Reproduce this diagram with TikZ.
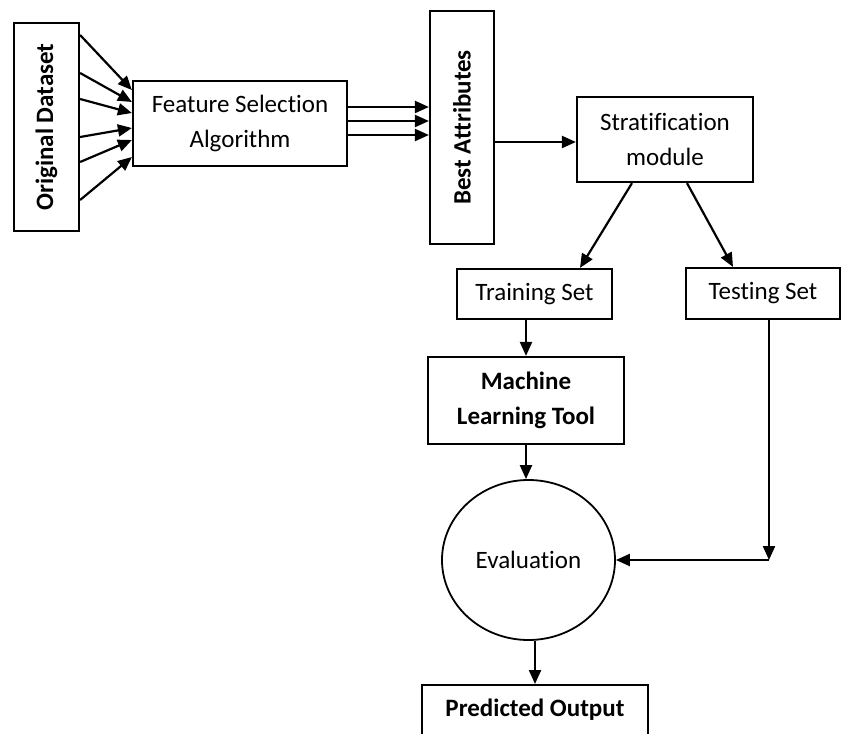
\documentclass[tikz,border=0pt]{standalone}
\usepackage{fontspec}
\setmainfont[Ligatures={NoCommon}]{Carlito}
\usepackage{tikz}
\usetikzlibrary{arrows.meta, shapes.geometric, calc}

\tikzset{
    box/.style={draw, line width=1.1pt, align=center, inner sep=0pt},
    arr/.style={line width=1.1pt, -{Triangle[length=7pt, width=6pt]}}
}

\begin{document}
\begin{tikzpicture}[x=0.5pt, y=-0.5pt, font=\fontsize{12.5}{17.5}\selectfont]
                    \useasboundingbox (0, 0) rectangle (842, 734);

                    \node[box, minimum width=32.5pt, minimum height=104pt] (orig) at (46.5, 127) {\rotatebox{90}{\bfseries Original Dataset}};
                    \node[box, minimum width=107pt, minimum height=42.5pt] (fsa) at (240, 123.5) {Feature Selection\\Algorithm};
                    \node[box, minimum width=32pt, minimum height=116.5pt] (best) at (462, 127.5) {\rotatebox{90}{\bfseries Best Attributes}};
                    \node[box, minimum width=88pt, minimum height=42.5pt] (strat) at (665, 139.5) {Stratification\\module};
                    \node[box, minimum width=77.5pt, minimum height=25pt] (train) at (534.5, 294) {Training Set};
                    \node[box, minimum width=77pt, minimum height=25.5pt] (test) at (763, 293.5) {Testing Set};
                    \node[box, minimum width=98pt, minimum height=43.5pt, font=\fontsize{12.5}{17.5}\selectfont\bfseries] (mlt) at (526, 400.5) {Machine\\Learning Tool};
                    \node[box, ellipse, line width=0.9pt, minimum width=86.5pt, minimum height=80pt] (eval) at (528.5, 560) {Evaluation};
                    \node[box, anchor=north, minimum width=113pt, inner ysep=8pt, text height=7.5pt, text depth=20pt, font=\fontsize{12.5}{17.5}\selectfont\bfseries] (pred) at (535, 684) {Predicted Output};

                    \foreach \a/\b in {46/16.75, 27/10.75, 14/5.25, -5/-2.25, -17.5/-8.25, -36.5/-16.75}
                        \draw[arr] ([yshift=\a pt]orig.east) -- ([yshift=\b pt]fsa.west);

                    \foreach \s in {8.25, 1.25, -5.75}
                        \draw[arr] ([yshift=\s pt]fsa.east) -- ([yshift=\s pt]fsa.east -| best.west);

                    \draw[arr] ([yshift=-1.25pt]best.east |- strat.west) -- ([yshift=-1.25pt]strat.west);
                    \draw[arr] ([xshift=-16.5pt]strat.south) -- ([xshift=22.75pt]train.north);
                    \draw[arr] ([xshift=11pt]strat.south) -- ([xshift=-15pt]test.north);
                    \draw[arr] (mlt.north |- train.south) -- (mlt.north);
                    \draw[arr] (mlt.south) -- (mlt.south |- eval.north);
                    \draw[arr] (pred.north |- eval.south) -- (pred.north);

                    \coordinate (corner) at ([xshift=3pt]test.south |- eval.east);
                    \draw[arr] ([xshift=3pt]test.south) -- (corner);
                    \draw[arr] (corner) -- (eval.east);
\end{tikzpicture}
\end{document}
